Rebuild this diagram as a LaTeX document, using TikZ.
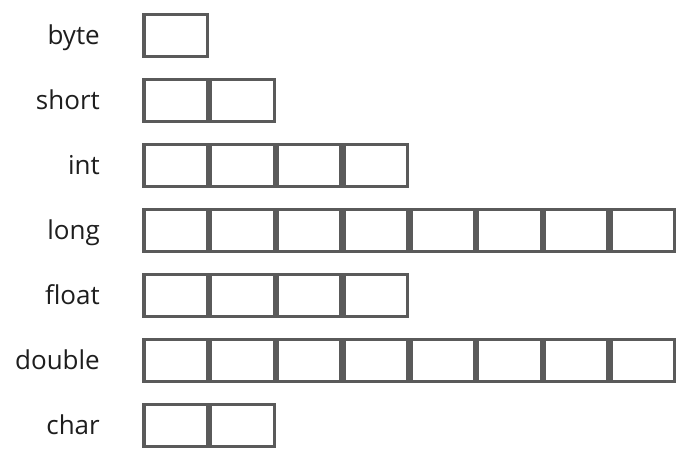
\documentclass[tikz,border=0pt]{standalone}
\usepackage{fontspec}
\setmainfont{Open Sans}
\begin{document}
\begin{tikzpicture}[x=1pt,y=1pt,
  cell/.style={draw=cellgray, line width=3.2pt, minimum width=63.5pt, minimum height=42pt, inner sep=0pt, outer sep=0pt},
  lab/.style={anchor=base east, inner sep=0pt, text=labgray, font=\fontsize{26}{28}\selectfont}]
\definecolor{cellgray}{HTML}{5A5A5A}
\definecolor{labgray}{HTML}{1E1E1E}
\useasboundingbox[fill=white] (0,0) rectangle (683,-462);
\def\names{byte/1/0,short/2/1,int/4/2,long/8/3,float/4/4,double/8/5,char/2/6}
\foreach \nm/\n/\r in \names {
  \pgfmathsetmacro{\yc}{-(35.8+64.9*\r)}
  \pgfmathsetmacro{\yb}{\yc-9.2}
  \node[lab] (L\nm) at (100,\yb) {\nm};
  \foreach \i in {1,...,\n} {
    \pgfmathsetmacro{\xc}{142.7+66.75*(\i-1)+33}
    \node[cell] (C\nm\i) at (\xc,\yc) {};
  }
}
\end{tikzpicture}
\end{document}
